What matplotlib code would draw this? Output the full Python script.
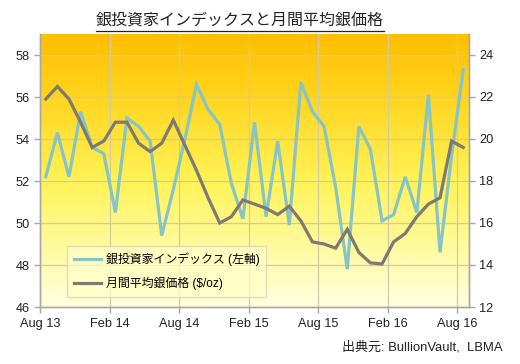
import matplotlib
matplotlib.use("Agg")
import matplotlib.pyplot as plt
import numpy as np
from matplotlib.colors import LinearSegmentedColormap
from matplotlib.lines import Line2D

months = ["Aug 13", "Sep 13", "Oct 13", "Nov 13", "Dec 13", "Jan 14", "Feb 14", "Mar 14", "Apr 14",
          "May 14", "Jun 14", "Jul 14", "Aug 14", "Sep 14", "Oct 14", "Nov 14", "Dec 14", "Jan 15",
          "Feb 15", "Mar 15", "Apr 15", "May 15", "Jun 15", "Jul 15", "Aug 15", "Sep 15", "Oct 15",
          "Nov 15", "Dec 15", "Jan 16", "Feb 16", "Mar 16", "Apr 16", "May 16", "Jun 16", "Jul 16", "Aug 16"]
investor_index = [52.2, 54.3, 52.2, 55.3, 53.6, 53.3, 50.5, 55.0, 54.6, 53.9, 49.4, 51.6, 54.0,
                  56.6, 55.4, 54.7, 51.9, 50.2, 54.8, 50.3, 53.9, 49.9, 56.7, 55.3, 54.6, 51.7,
                  47.8, 54.6, 53.5, 50.1, 50.4, 52.2, 50.5, 56.1, 48.6, 53.2, 57.3]
silver_price = [21.9, 22.5, 21.9, 20.8, 19.6, 19.9, 20.8, 20.8, 19.8, 19.4, 19.8, 20.9, 19.7,
                18.5, 17.2, 16.0, 16.3, 17.1, 16.9, 16.7, 16.4, 16.8, 16.1, 15.1, 15.0, 14.8,
                15.7, 14.6, 14.1, 14.05, 15.1, 15.5, 16.3, 16.9, 17.2, 19.9, 19.6]
tick_labels = ["Aug 13", "Feb 14", "Aug 14", "Feb 15", "Aug 15", "Feb 16", "Aug 16"]
left_ticks = [46, 48, 50, 52, 54, 56, 58]
right_ticks = [12, 14, 16, 18, 20, 22, 24]

LAT = ["Liberation Sans", "Noto Sans CJK JP"]
CJK = ["Noto Sans CJK JP", "DejaVu Sans"]

fig = plt.figure(figsize=(5.2, 3.64), dpi=100)
fig.patch.set_facecolor("white")
ax = fig.add_axes([40/520, 1-307/364, 429/520, 273/364])
ax2 = ax.twinx()

x = np.arange(len(months)) + 0.5
ax.set_xlim(0, len(months))
ax.set_ylim(46, 59)
ax2.set_ylim(12, 25)

# gradient background
cmap = LinearSegmentedColormap.from_list("bg", [(0.0, "#FFFFE0"), (0.45, "#FFF45A"), (0.8, "#FFD21A"), (1.0, "#FFBE00")])
grad = np.linspace(0, 1, 256).reshape(-1, 1)
ax.imshow(grad, aspect="auto", cmap=cmap, origin="lower", extent=[0, len(months), 46, 59], zorder=0)

grid_c = "#CFCBA8"
for v in left_ticks:
    ax.axhline(v, color=grid_c, lw=0.9, zorder=1)
for t in range(0, len(months), 6):
    ax.axvline(t, color=grid_c, lw=0.9, zorder=1)

l1, = ax.plot(x, investor_index, color="#86C4C6", lw=2.3, zorder=3, solid_joinstyle="miter")
l2, = ax2.plot(x, silver_price, color="#7E7A72", lw=2.3, zorder=3, solid_joinstyle="miter")

ax.set_xticks(range(0, len(months), 6))
ax.set_xticklabels(tick_labels, fontfamily=LAT, fontsize=9.2)
ax.set_yticks(left_ticks)
ax.set_yticklabels([str(v) for v in left_ticks], fontfamily=LAT, fontsize=9.2)
ax2.set_yticks(right_ticks)
ax2.set_yticklabels([str(v) for v in right_ticks], fontfamily=LAT, fontsize=9.2)

for a in (ax, ax2):
    for s in a.spines.values():
        s.set_color("#A8A8A8")
        s.set_linewidth(1.0)
    a.spines["top"].set_visible(False)
    a.tick_params(colors="#A8A8A8", labelcolor="#222222", length=4, width=1, direction="out")
ax.tick_params(axis="x", pad=4)

leg = ax2.legend([l1, l2], ["銀投資家インデックス (左軸)", "月間平均銀価格 ($/oz)"],
                 loc="lower left", bbox_to_anchor=(0.063, 0.037), prop={"family": LAT, "size": 8.6},
                 frameon=True, fancybox=False, handlelength=2.3, handletextpad=0.4,
                 borderpad=0.55, labelspacing=0.95, borderaxespad=0)
leg.get_frame().set_facecolor("#FFFFC8")
leg.get_frame().set_alpha(0.75)
leg.get_frame().set_edgecolor("#D8D4B0")
leg.set_zorder(5)

title = fig.text(240/520, 1-21/364, "銀投資家インデックスと月間平均銀価格", ha="center", va="center",
                 fontsize=11.5, family=CJK, color="#222222")
fig.canvas.draw()
bb = title.get_window_extent()
W, H = fig.bbox.width, fig.bbox.height
fig.add_artist(Line2D([bb.x0/W, bb.x1/W], [(bb.y0-1)/H, (bb.y0-1)/H], color="#222222", lw=0.9))

fig.text(503/520, 1-347/364, "出典元: BullionVault,  LBMA", ha="right", va="center",
         fontsize=9.4, family=LAT, color="#222222")

fig.savefig("out.png", dpi=100, facecolor="white")
